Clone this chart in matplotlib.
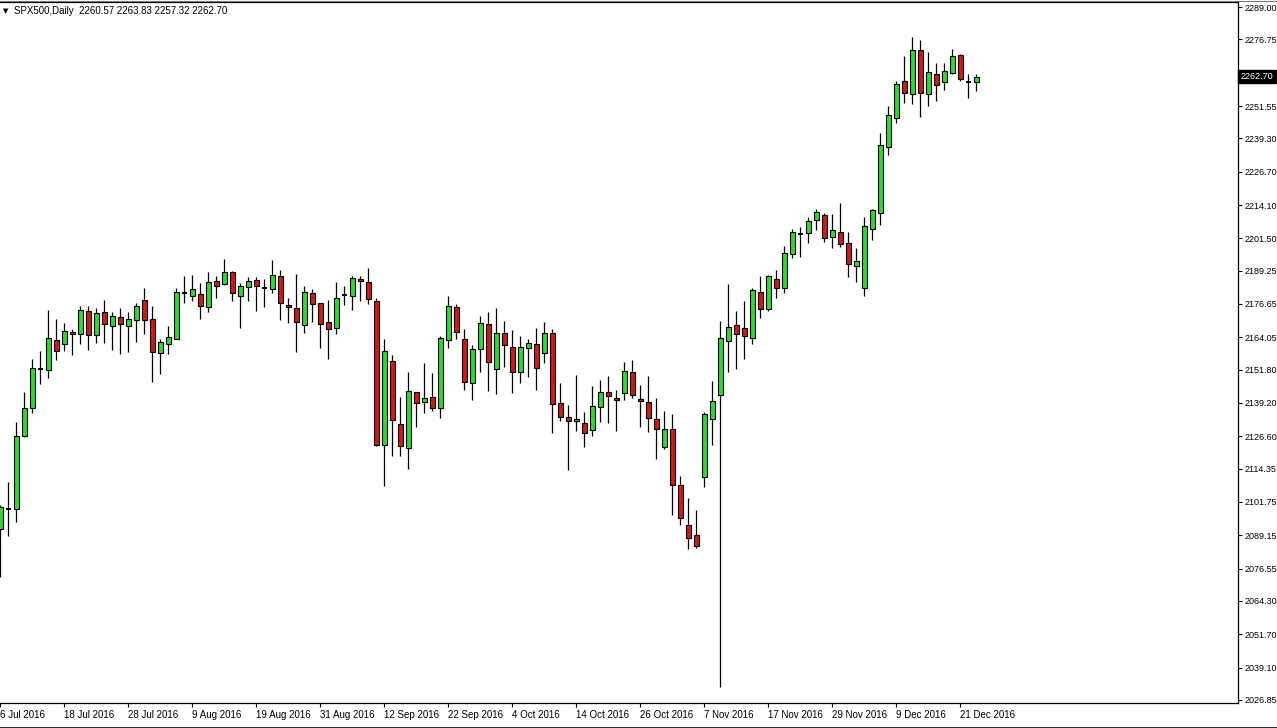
import matplotlib
matplotlib.use("Agg")
import matplotlib.pyplot as plt
from matplotlib.lines import Line2D

# daily OHLC, 6 Jul 2016 .. 23 Dec 2016
opens = [2091.5, 2099.1, 2099.2, 2126.8, 2137.2, 2152.2, 2151.7, 2162.9, 2161.4, 2165.9,
         2165.2, 2173.9, 2164.8, 2173.5, 2168.2, 2171.6, 2168.4, 2170.5, 2178.0, 2170.9,
         2158.0, 2161.6, 2163.5, 2180.9, 2179.6, 2180.3, 2175.4, 2185.2, 2184.1, 2188.6,
         2179.6, 2183.0, 2185.7, 2182.7, 2182.2, 2187.1, 2176.1, 2175.0, 2168.6, 2180.7,
         2176.9, 2169.7, 2167.4, 2180.0, 2179.6, 2186.0, 2185.1, 2177.8, 2123.2, 2155.1,
         2131.1, 2122.0, 2143.3, 2139.4, 2141.3, 2137.2, 2162.9, 2175.4, 2163.3, 2146.6,
         2159.5, 2169.0, 2152.0, 2165.6, 2160.3, 2150.8, 2159.9, 2161.4, 2158.0, 2165.6,
         2139.1, 2133.8, 2132.3, 2131.5, 2128.9, 2137.6, 2143.2, 2141.1, 2142.8, 2150.8,
         2140.7, 2139.5, 2133.0, 2122.7, 2129.2, 2108.1, 2092.9, 2089.1, 2111.1, 2133.0,
         2142.1, 2162.5, 2168.6, 2167.4, 2163.7, 2181.1, 2174.7, 2186.0, 2182.6, 2195.4,
         2203.3, 2203.4, 2208.3, 2210.2, 2201.9, 2203.8, 2199.6, 2190.9, 2182.8, 2205.1,
         2211.2, 2236.2, 2247.1, 2260.9, 2256.0, 2272.6, 2256.0, 2263.5, 2260.5, 2263.9,
         2270.7, 2260.7, 2260.57]
highs = [2100.6, 2109.4, 2132.1, 2143.4, 2155.8, 2158.9, 2174.4, 2170.9, 2169.3, 2167.1,
         2175.9, 2175.9, 2175.0, 2178.2, 2173.5, 2175.0, 2173.6, 2177.0, 2182.6, 2175.8,
         2163.3, 2168.3, 2182.6, 2187.4, 2187.6, 2184.6, 2188.7, 2187.1, 2193.6, 2189.0,
         2184.5, 2186.7, 2186.7, 2186.0, 2193.3, 2189.5, 2178.8, 2188.0, 2183.5, 2182.2,
         2177.2, 2178.0, 2185.0, 2183.5, 2187.1, 2187.1, 2190.3, 2178.8, 2163.4, 2157.2,
         2141.5, 2150.9, 2143.5, 2154.3, 2150.5, 2164.4, 2179.7, 2176.5, 2167.1, 2161.0,
         2172.0, 2173.5, 2175.0, 2170.1, 2166.7, 2164.4, 2163.3, 2167.4, 2169.7, 2167.1,
         2146.6, 2138.3, 2149.7, 2135.7, 2145.6, 2147.9, 2149.3, 2144.0, 2154.7, 2155.5,
         2145.9, 2149.3, 2141.0, 2136.1, 2134.9, 2111.5, 2103.1, 2098.9, 2135.7, 2147.4,
         2170.1, 2184.1, 2174.0, 2177.6, 2182.6, 2187.1, 2187.5, 2189.4, 2198.5, 2204.9,
         2205.6, 2209.4, 2212.5, 2210.9, 2210.6, 2214.7, 2203.8, 2197.7, 2209.4, 2212.5,
         2241.2, 2251.4, 2260.9, 2270.4, 2277.6, 2276.4, 2271.9, 2267.7, 2267.7, 2273.0,
         2271.1, 2263.5, 2263.83]
lows = [2073.4, 2088.9, 2094.3, 2126.4, 2135.3, 2146.2, 2148.7, 2155.5, 2158.9, 2157.5,
        2161.4, 2159.4, 2161.8, 2161.8, 2159.4, 2157.7, 2158.6, 2162.4, 2165.2, 2147.2,
        2150.3, 2157.7, 2163.3, 2177.1, 2177.9, 2171.1, 2173.5, 2178.8, 2183.9, 2177.9,
        2167.7, 2177.9, 2174.1, 2175.4, 2180.9, 2170.7, 2169.3, 2158.6, 2165.6, 2169.7,
        2160.1, 2155.8, 2165.2, 2176.1, 2174.3, 2177.9, 2176.6, 2123.0, 2107.9, 2119.3,
        2119.3, 2114.3, 2130.0, 2135.3, 2136.1, 2133.4, 2159.9, 2163.3, 2144.0, 2140.2,
        2150.8, 2143.8, 2142.7, 2152.9, 2143.1, 2146.9, 2148.9, 2144.0, 2154.2, 2127.7,
        2132.3, 2113.9, 2128.5, 2122.4, 2126.6, 2131.9, 2131.7, 2128.7, 2140.2, 2141.0,
        2130.2, 2128.3, 2118.1, 2121.9, 2096.7, 2092.9, 2083.9, 2084.2, 2107.6, 2123.2,
        2031.9, 2151.0, 2152.2, 2155.7, 2161.4, 2171.2, 2173.9, 2178.8, 2180.7, 2193.9,
        2194.3, 2199.6, 2204.5, 2200.0, 2197.7, 2198.1, 2186.7, 2184.9, 2179.8, 2201.0,
        2206.6, 2233.1, 2245.2, 2252.6, 2252.4, 2247.5, 2251.6, 2253.6, 2257.7, 2263.5,
        2260.9, 2254.5, 2257.32]
closes = [2099.9, 2099.1, 2126.7, 2137.3, 2152.3, 2152.2, 2163.7, 2158.7, 2166.3, 2165.2,
          2174.3, 2164.8, 2173.1, 2169.0, 2172.0, 2169.0, 2170.9, 2175.8, 2170.7, 2158.4,
          2162.2, 2164.1, 2181.1, 2180.9, 2182.2, 2175.8, 2184.9, 2183.3, 2188.6, 2180.7,
          2183.3, 2185.2, 2183.6, 2182.7, 2187.5, 2176.9, 2175.4, 2169.7, 2181.1, 2176.5,
          2169.0, 2167.1, 2178.8, 2180.0, 2186.3, 2185.2, 2178.4, 2123.3, 2158.9, 2132.6,
          2122.8, 2143.6, 2139.1, 2140.9, 2137.2, 2163.7, 2175.8, 2165.9, 2147.0, 2159.5,
          2169.4, 2154.6, 2165.6, 2161.0, 2150.8, 2160.3, 2161.8, 2152.3, 2165.6, 2138.7,
          2134.0, 2132.3, 2133.3, 2127.7, 2137.9, 2143.2, 2141.7, 2140.2, 2151.2, 2142.1,
          2139.8, 2133.4, 2129.5, 2129.2, 2108.1, 2095.6, 2088.0, 2085.0, 2134.9, 2139.8,
          2163.7, 2167.8, 2165.2, 2164.4, 2181.8, 2174.7, 2187.1, 2182.6, 2195.8, 2203.8,
          2203.3, 2207.9, 2211.3, 2201.5, 2204.5, 2199.2, 2191.7, 2192.8, 2206.0, 2212.2,
          2236.7, 2248.0, 2259.8, 2256.4, 2272.6, 2256.4, 2264.3, 2259.4, 2264.7, 2270.4,
          2261.6, 2260.7, 2262.70]

date_labels = ["6 Jul 2016", "18 Jul 2016", "28 Jul 2016", "9 Aug 2016", "19 Aug 2016",
               "31 Aug 2016", "12 Sep 2016", "22 Sep 2016", "4 Oct 2016", "14 Oct 2016",
               "26 Oct 2016", "7 Nov 2016", "17 Nov 2016", "29 Nov 2016", "9 Dec 2016",
               "21 Dec 2016"]
label_step = 8  # one date label every 8 bars

price_ticks = [2289.00, 2276.75, 2264.15, 2251.55, 2239.30, 2226.70, 2214.10, 2201.50,
               2189.25, 2176.65, 2164.05, 2151.80, 2139.20, 2126.60, 2114.35, 2101.75,
               2089.15, 2076.55, 2064.30, 2051.70, 2039.10, 2026.85]

bull_color = "#33d633"
bear_color = "#cc1a1a"
font = "Liberation Sans"

fig = plt.figure(figsize=(12.77, 7.28), dpi=100)
ax = fig.add_axes([0, 25 / 728, 1238 / 1277, 701 / 728])

for i in range(len(opens)):
    o, h, l, c = opens[i], highs[i], lows[i], closes[i]
    ax.vlines(i, l, h, color="black", linewidth=0.9, zorder=2)
    if c == o:
        ax.hlines(o, i - 0.32, i + 0.32, color="black", linewidth=1.4, zorder=3)
    else:
        col = bull_color if c > o else bear_color
        ax.bar(i, abs(c - o), bottom=min(o, c), width=0.6, color=col,
               edgecolor="black", linewidth=0.8, zorder=3)

ax.set_xlim(-0.04, 1238 / 8 - 0.04)
ax.set_ylim(2025.7, 2290.9)

ax.set_xticks(range(0, len(date_labels) * label_step, label_step))
ax.set_xticklabels(date_labels, ha="left", fontsize=7, family=font)
ax.tick_params(axis="x", direction="out", length=3, width=0.8, pad=2)

ax.yaxis.tick_right()
ax.set_yticks(price_ticks)
ax.set_yticklabels([f"{p:.2f}" for p in price_ticks], fontsize=6.5, family=font)
ax.tick_params(axis="y", direction="out", length=3, width=0.8, pad=1.5)

ax.spines["left"].set_visible(False)
for side in ["top", "right", "bottom"]:
    ax.spines[side].set_linewidth(0.9)

# current price marker on the right scale
ax.text(1.0022, closes[-1], f"{closes[-1]:.2f}", transform=ax.get_yaxis_transform(),
        ha="left", va="center", fontsize=6.5, family=font, color="white", zorder=10,
        clip_on=False, bbox=dict(boxstyle="square,pad=0.25", fc="black", ec="black"))

# header text
fig.text(3 / 1277, 1 - 11 / 728, "\u25bc", fontsize=5, va="center", family="DejaVu Sans")
fig.text(14 / 1277, 1 - 11 / 728,
         f"SPX500,Daily  {opens[-1]:.2f} {highs[-1]:.2f} {lows[-1]:.2f} {closes[-1]:.2f}",
         fontsize=7, va="center", family=font)

# window border lines
fig.add_artist(Line2D([0, 1], [1 - 0.5 / 728] * 2, color="#777777", linewidth=0.8))
fig.add_artist(Line2D([0, 1], [1.5 / 728] * 2, color="#333333", linewidth=0.8))

fig.savefig("out.png", dpi=100)
